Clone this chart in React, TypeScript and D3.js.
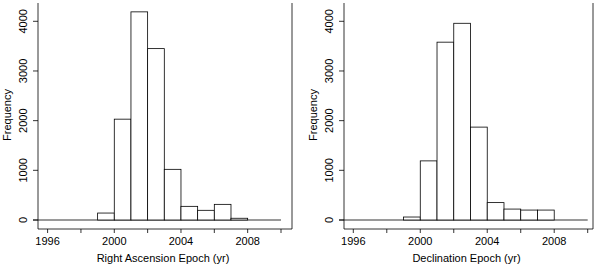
import React, { useEffect, useRef } from 'react';
import * as d3 from 'd3';

// histogram bins, one year wide
const binStarts = [1999, 2000, 2001, 2002, 2003, 2004, 2005, 2006, 2007];
const raCounts = [140, 2030, 4190, 3450, 1020, 275, 195, 315, 35];
const decCounts = [60, 1190, 3580, 3960, 1870, 350, 220, 200, 200];

const yTicks = [0, 1000, 2000, 3000, 4000];
const xTicks = [1996, 1998, 2000, 2002, 2004, 2006, 2008, 2010];
const xLabels = [1996, 2000, 2004, 2008];

const titles = ['Right Ascension Epoch (yr)', 'Declination Epoch (yr)'];

const drawPanel = (svg, counts, title, frame, range) => {
  const font = 'Liberation Sans, Arial, sans-serif';
  const sw = 0.8;
  const xScale = d3.scaleLinear().domain([1996, 2010]).range(range);
  const yScale = d3.scaleLinear().domain([0, 4000]).range([220, 21.3]);

  const g = svg.append('g');

  // frame (left, right, bottom)
  g.append('path')
    .attr('d', `M${frame[0]},3V229H${frame[1]}V3`)
    .attr('fill', 'none')
    .attr('stroke', '#000')
    .attr('stroke-width', sw);

  // baseline
  g.append('line')
    .attr('x1', frame[0] - 5)
    .attr('x2', xScale(2010))
    .attr('y1', yScale(0))
    .attr('y2', yScale(0))
    .attr('stroke', '#000')
    .attr('stroke-width', sw);

  g.selectAll('rect.bar')
    .data(counts)
    .enter()
    .append('rect')
    .attr('class', 'bar')
    .attr('x', (d, i) => xScale(binStarts[i]))
    .attr('width', (d, i) => xScale(binStarts[i] + 1) - xScale(binStarts[i]))
    .attr('y', (d) => yScale(d))
    .attr('height', (d) => yScale(0) - yScale(d))
    .attr('fill', '#fff')
    .attr('stroke', '#000')
    .attr('stroke-width', sw);

  // y axis ticks + rotated labels
  yTicks.forEach((t) => {
    g.append('line')
      .attr('x1', frame[0] - 5)
      .attr('x2', frame[0])
      .attr('y1', yScale(t))
      .attr('y2', yScale(t))
      .attr('stroke', '#000')
      .attr('stroke-width', sw);
    g.append('text')
      .attr('transform', `translate(${frame[0] - 11},${yScale(t)}) rotate(-90)`)
      .attr('text-anchor', 'middle')
      .attr('font-family', font)
      .attr('font-size', 11)
      .text(t);
  });

  // x axis ticks
  xTicks.forEach((t) => {
    g.append('line')
      .attr('x1', xScale(t))
      .attr('x2', xScale(t))
      .attr('y1', 229)
      .attr('y2', 233)
      .attr('stroke', '#000')
      .attr('stroke-width', sw);
  });
  xLabels.forEach((t) => {
    g.append('text')
      .attr('x', xScale(t))
      .attr('y', 245)
      .attr('text-anchor', 'middle')
      .attr('font-family', font)
      .attr('font-size', 11)
      .text(t);
  });

  g.append('text')
    .attr('x', (frame[0] + frame[1]) / 2 - 2)
    .attr('y', 262)
    .attr('text-anchor', 'middle')
    .attr('font-family', font)
    .attr('font-size', 11)
    .text(title);

  g.append('text')
    .attr('transform', `translate(${frame[0] - 27},115) rotate(-90)`)
    .attr('text-anchor', 'middle')
    .attr('font-family', font)
    .attr('font-size', 11)
    .text('Frequency');
};

export default function App() {
  const ref = useRef(null);

  useEffect(() => {
    const svg = d3.select(ref.current);
    svg.selectAll('*').remove();
    drawPanel(svg, raCounts, titles[0], [38, 292], [47.6, 281]);
    drawPanel(svg, decCounts, titles[1], [344, 593], [353.3, 587.7]);
  }, []);

  return (
    <svg
      ref={ref}
      width={600}
      height={269}
      style={{ position: 'absolute', left: 0, top: 0, background: '#fff' }}
    ></svg>
  );
}
